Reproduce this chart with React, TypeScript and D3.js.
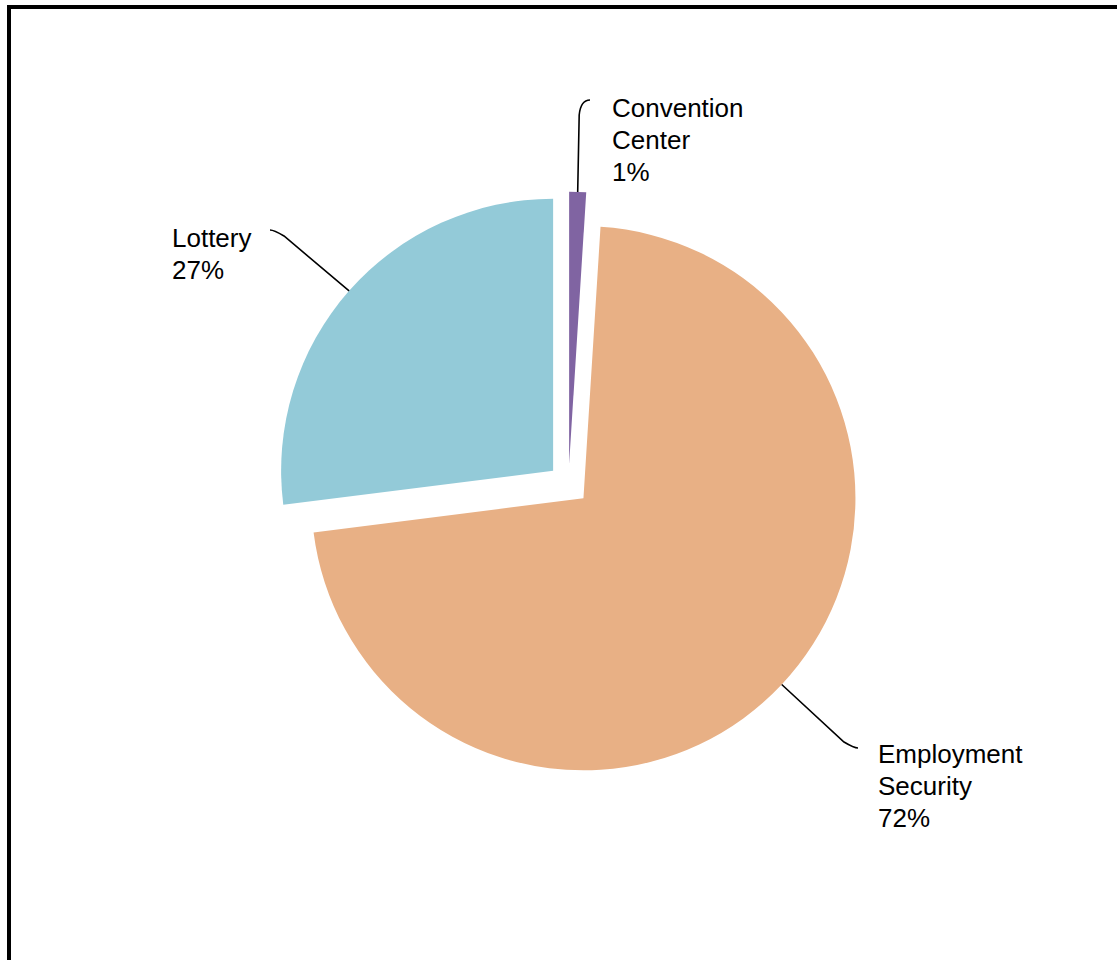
import React from "react";
import * as d3 from "d3";

const categories = ["Convention Center", "Employment Security", "Lottery"];
const values = [1, 72, 27];
const labelLines = [["Convention", "Center", "1%"], ["Employment", "Security", "72%"], ["Lottery", "27%"]];
const colors = ["#8064A2", "#E8B085", "#93CAD8"];

// layout
const W = 1117, H = 960;
const CX = 568.5, CY = 484.3, R = 272, EXPLODE = 20.5;
const FONT = 26, LH = 32;
// label anchor (text x, first baseline) and leader end point
const labelPos = [
  { x: 612, y: 117, ex: 590, ey: 100 },
  { x: 878, y: 763, ex: 858, ey: 748 },
  { x: 172, y: 247, ex: 270, ey: 230 },
];

export default function App() {
  const pie = d3.pie<number>().sort(null).startAngle(0).endAngle(2 * Math.PI);
  const arcs = pie(values);
  const arcGen = d3.arc<d3.PieArcDatum<number>>().innerRadius(0).outerRadius(R);

  return (
    <svg width={W} height={H} style={{ position: "absolute", left: 0, top: 0, background: "#fff" }}>
      <rect x={9} y={7} width={W + 20} height={H + 20} fill="#fff" stroke="#000" strokeWidth={4} />
      {arcs.map((a, i) => {
        const mid = (a.startAngle + a.endAngle) / 2;
        const ox = CX + EXPLODE * Math.sin(mid);
        const oy = CY - EXPLODE * Math.cos(mid);
        const sx = ox + R * Math.sin(mid);
        const sy = oy - R * Math.cos(mid);
        const lp = labelPos[i];
        // leader: straight along bisector-ish toward label then curve into horizontal end
        const dir = lp.ex > sx ? 1 : -1;
        const kx = lp.ex - dir * 14;
        const ky = lp.ey + (sy > lp.ey ? 6 : -6);
        const bx = lp.ex - dir * 4;
        const path = `M${sx},${sy} L${kx},${ky} Q${bx},${lp.ey} ${lp.ex},${lp.ey}`;
        let leader = path;
        if (i === 0) {
          leader = `M${sx},${sy} L${sx + 1.5},${lp.ey + 15} Q${sx + 3},${lp.ey} ${lp.ex},${lp.ey}`;
        }
        return (
          <g key={categories[i]}>
            <path d={arcGen(a) || ""} transform={`translate(${ox},${oy})`} fill={colors[i]} />
            <path d={leader} fill="none" stroke="#000" strokeWidth={1.6} />
            <text fontFamily="'Liberation Sans', Arial, sans-serif" fontSize={FONT} fill="#000">
              {labelLines[i].map((t, j) => (
                <tspan key={j} x={lp.x} y={lp.y + j * LH}>{t}</tspan>
              ))}
            </text>
          </g>
        );
      })}
    </svg>
  );
}
